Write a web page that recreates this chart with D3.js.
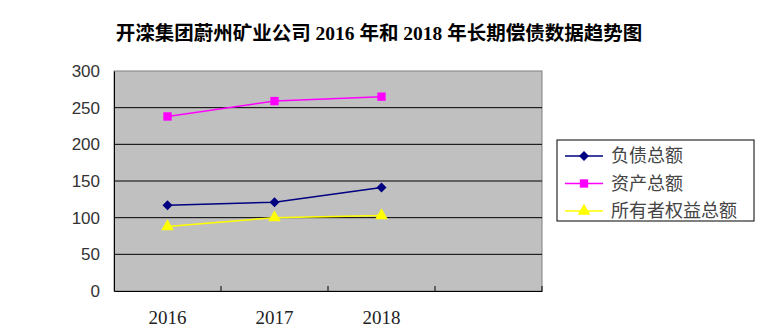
<!DOCTYPE html>
<html lang="zh">
<head>
<meta charset="UTF-8">
<title>长期偿债数据趋势图</title>
<script src="https://d3js.org/d3.v7.min.js"></script>
<style>
  body { margin: 0; background: #fff; }
</style>
</head>
<body>
<svg id="chart" width="781" height="328"></svg>
<script>
const categories = ["2016", "2017", "2018"];
const seriesNames = ["负债总额", "资产总额", "所有者权益总额"];
const debt = [117, 121, 141];
const assets = [238, 259, 265];
const equity = [88, 100, 103];
const yTicks = [0, 50, 100, 150, 200, 250, 300];

const series = [
  { name: seriesNames[0], values: debt, color: "#000080", symbol: d3.symbolSquare, size: 50, rotate: 45 },
  { name: seriesNames[1], values: assets, color: "#ff00ff", symbol: d3.symbolSquare, size: 70, rotate: 0 },
  { name: seriesNames[2], values: equity, color: "#ffff00", symbol: d3.symbolTriangle, size: 70, rotate: 0 }
];

const svg = d3.select("#chart");
const plot = { left: 114, top: 71, right: 542, bottom: 291 };

svg.append("text")
  .attr("x", 379).attr("y", 40)
  .attr("text-anchor", "middle")
  .style("font-family", "'Liberation Serif', 'Noto Sans CJK SC', serif")
  .style("font-weight", "bold")
  .style("font-size", "19.5px")
  .text("开滦集团蔚州矿业公司 2016 年和 2018 年长期偿债数据趋势图");

// an empty fourth slot, as in the original
const x = d3.scaleBand()
  .domain(categories.concat([""]))
  .range([plot.left, plot.right]);

const y = d3.scaleLinear()
  .domain([0, 300])
  .range([plot.bottom, plot.top]);

svg.append("rect")
  .attr("x", plot.left).attr("y", plot.top)
  .attr("width", plot.right - plot.left).attr("height", plot.bottom - plot.top)
  .attr("fill", "#c0c0c0")
  .attr("stroke", "#808080");

svg.append("g")
  .selectAll("line")
  .data(yTicks.filter(d => d > 0 && d < 300))
  .join("line")
  .attr("x1", plot.left).attr("x2", plot.right)
  .attr("y1", d => y(d)).attr("y2", d => y(d))
  .attr("stroke", "#000");

// y axis
const yAxis = svg.append("g")
  .attr("transform", `translate(${plot.left},0)`)
  .call(d3.axisLeft(y).tickValues(yTicks).tickSize(0).tickPadding(14));
yAxis.select(".domain").attr("stroke", "#000");
yAxis.selectAll("text")
  .style("font-family", "'Liberation Sans', Arial, sans-serif")
  .style("font-size", "17px")
  .attr("fill", "#333");

// x axis
const xAxis = svg.append("g")
  .attr("transform", `translate(0,${plot.bottom})`)
  .call(d3.axisBottom(x).tickSize(0).tickPadding(20));
xAxis.select(".domain").attr("stroke", "#000");
xAxis.selectAll("text")
  .style("font-family", "'Liberation Serif', 'Times New Roman', serif")
  .style("font-size", "19px")
  .attr("fill", "#222");

svg.append("g")
  .selectAll("line")
  .data(x.domain().map(d => x(d) + x.bandwidth()))
  .join("line")
  .attr("x1", d => d).attr("x2", d => d)
  .attr("y1", plot.bottom).attr("y2", plot.bottom - 5)
  .attr("stroke", "#000");

const line = d3.line()
  .x((d, i) => x(categories[i]) + x.bandwidth() / 2)
  .y(d => y(d));

series.forEach(s => {
  svg.append("path")
    .datum(s.values)
    .attr("d", line)
    .attr("fill", "none")
    .attr("stroke", s.color)
    .attr("stroke-width", 1.5);
  svg.append("g")
    .selectAll("path")
    .data(s.values)
    .join("path")
    .attr("transform", (d, i) => `translate(${x(categories[i]) + x.bandwidth() / 2},${y(d)}) rotate(${s.rotate})`)
    .attr("d", d3.symbol().type(s.symbol).size(s.size))
    .attr("fill", s.color);
});

// legend
const legend = svg.append("g").attr("transform", "translate(557,140)");
legend.append("rect")
  .attr("width", 197).attr("height", 81)
  .attr("fill", "#fff")
  .attr("stroke", "#000");

const items = legend.selectAll("g")
  .data(series)
  .join("g")
  .attr("transform", (d, i) => `translate(0,${16 + i * 27.5})`);
items.append("line")
  .attr("x1", 8).attr("x2", 46)
  .attr("stroke", d => d.color)
  .attr("stroke-width", 1.5);
items.append("path")
  .attr("transform", d => `translate(27,0) rotate(${d.rotate})`)
  .attr("d", d => d3.symbol().type(d.symbol).size(d.size)())
  .attr("fill", d => d.color);
items.append("text")
  .attr("x", 54).attr("dy", "0.36em")
  .style("font-family", "'Noto Sans CJK SC', sans-serif")
  .style("font-size", "18px")
  .attr("fill", "#444")
  .text(d => d.name);
</script>
</body>
</html>
